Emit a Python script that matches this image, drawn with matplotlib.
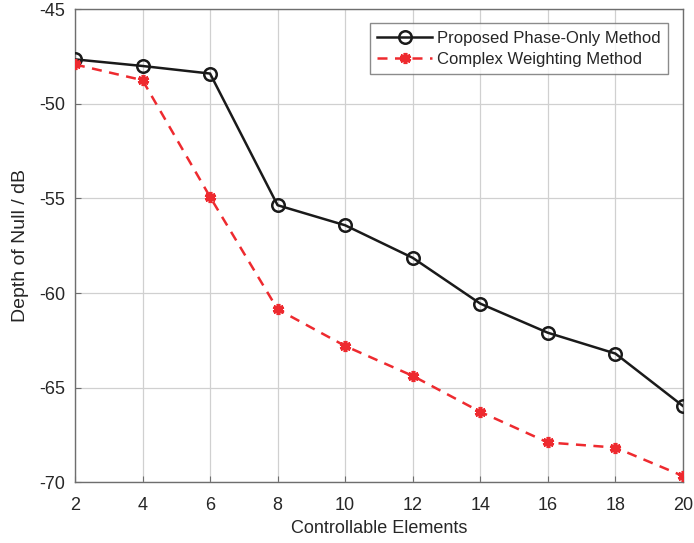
import matplotlib.pyplot as plt

plt.rcParams['font.family'] = ['Liberation Sans', 'DejaVu Sans']
plt.rcParams['axes.unicode_minus'] = False

elements = [2, 4, 6, 8, 10, 12, 14, 16, 18, 20]
phase_only = [-47.65, -48.0, -48.4, -55.36, -56.42, -58.14, -60.56, -62.1, -63.2, -65.97]
complex_w = [-47.92, -48.75, -54.92, -60.86, -62.8, -64.38, -66.28, -67.9, -68.17, -69.67]

fig = plt.figure(figsize=(6.94, 5.43), dpi=100)
ax = fig.add_axes([0.108, 0.112, 0.876, 0.871])

ax.plot(elements, phase_only, color='#1a1a1a', linewidth=1.8, marker='o',
        markersize=9, markerfacecolor='none', markeredgewidth=1.8,
        label='Proposed Phase-Only Method', zorder=3)
ax.plot(elements, complex_w, color='#ee2a2f', linewidth=1.8, linestyle=(0, (4, 3)),
        marker=(6, 2, 0), markersize=8, markeredgewidth=2.6,
        label='Complex Weighting Method', zorder=3)

ax.set_xlim(2, 20)
ax.set_ylim(-70, -45)
ax.set_xticks(elements)
ax.set_yticks([-70, -65, -60, -55, -50, -45])
ax.grid(True, color='#d0d0d0', linewidth=0.9)
ax.set_axisbelow(True)
for s in ax.spines.values():
    s.set_color('#6e6e6e')
    s.set_linewidth(1.0)
ax.tick_params(colors='#6e6e6e', labelcolor='#262626', labelsize=13, direction='in', length=4)
ax.tick_params(axis='x', pad=11)
ax.tick_params(axis='y', pad=7)

ax.set_xlabel('Controllable Elements', fontsize=13, color='#262626', labelpad=4)
ax.set_ylabel('Depth of Null / dB', fontsize=14, color='#262626', labelpad=7)

leg = ax.legend(loc='upper right', bbox_to_anchor=(0.984, 0.981), fontsize=12,
                frameon=True, fancybox=False, edgecolor='#6e6e6e',
                handlelength=3.3, borderpad=0.45, labelspacing=0.35, handletextpad=0.3,
                borderaxespad=0.3)
leg.get_frame().set_linewidth(1.0)
for t in leg.get_texts():
    t.set_color('#262626')

fig.savefig('out.png', dpi=100)
